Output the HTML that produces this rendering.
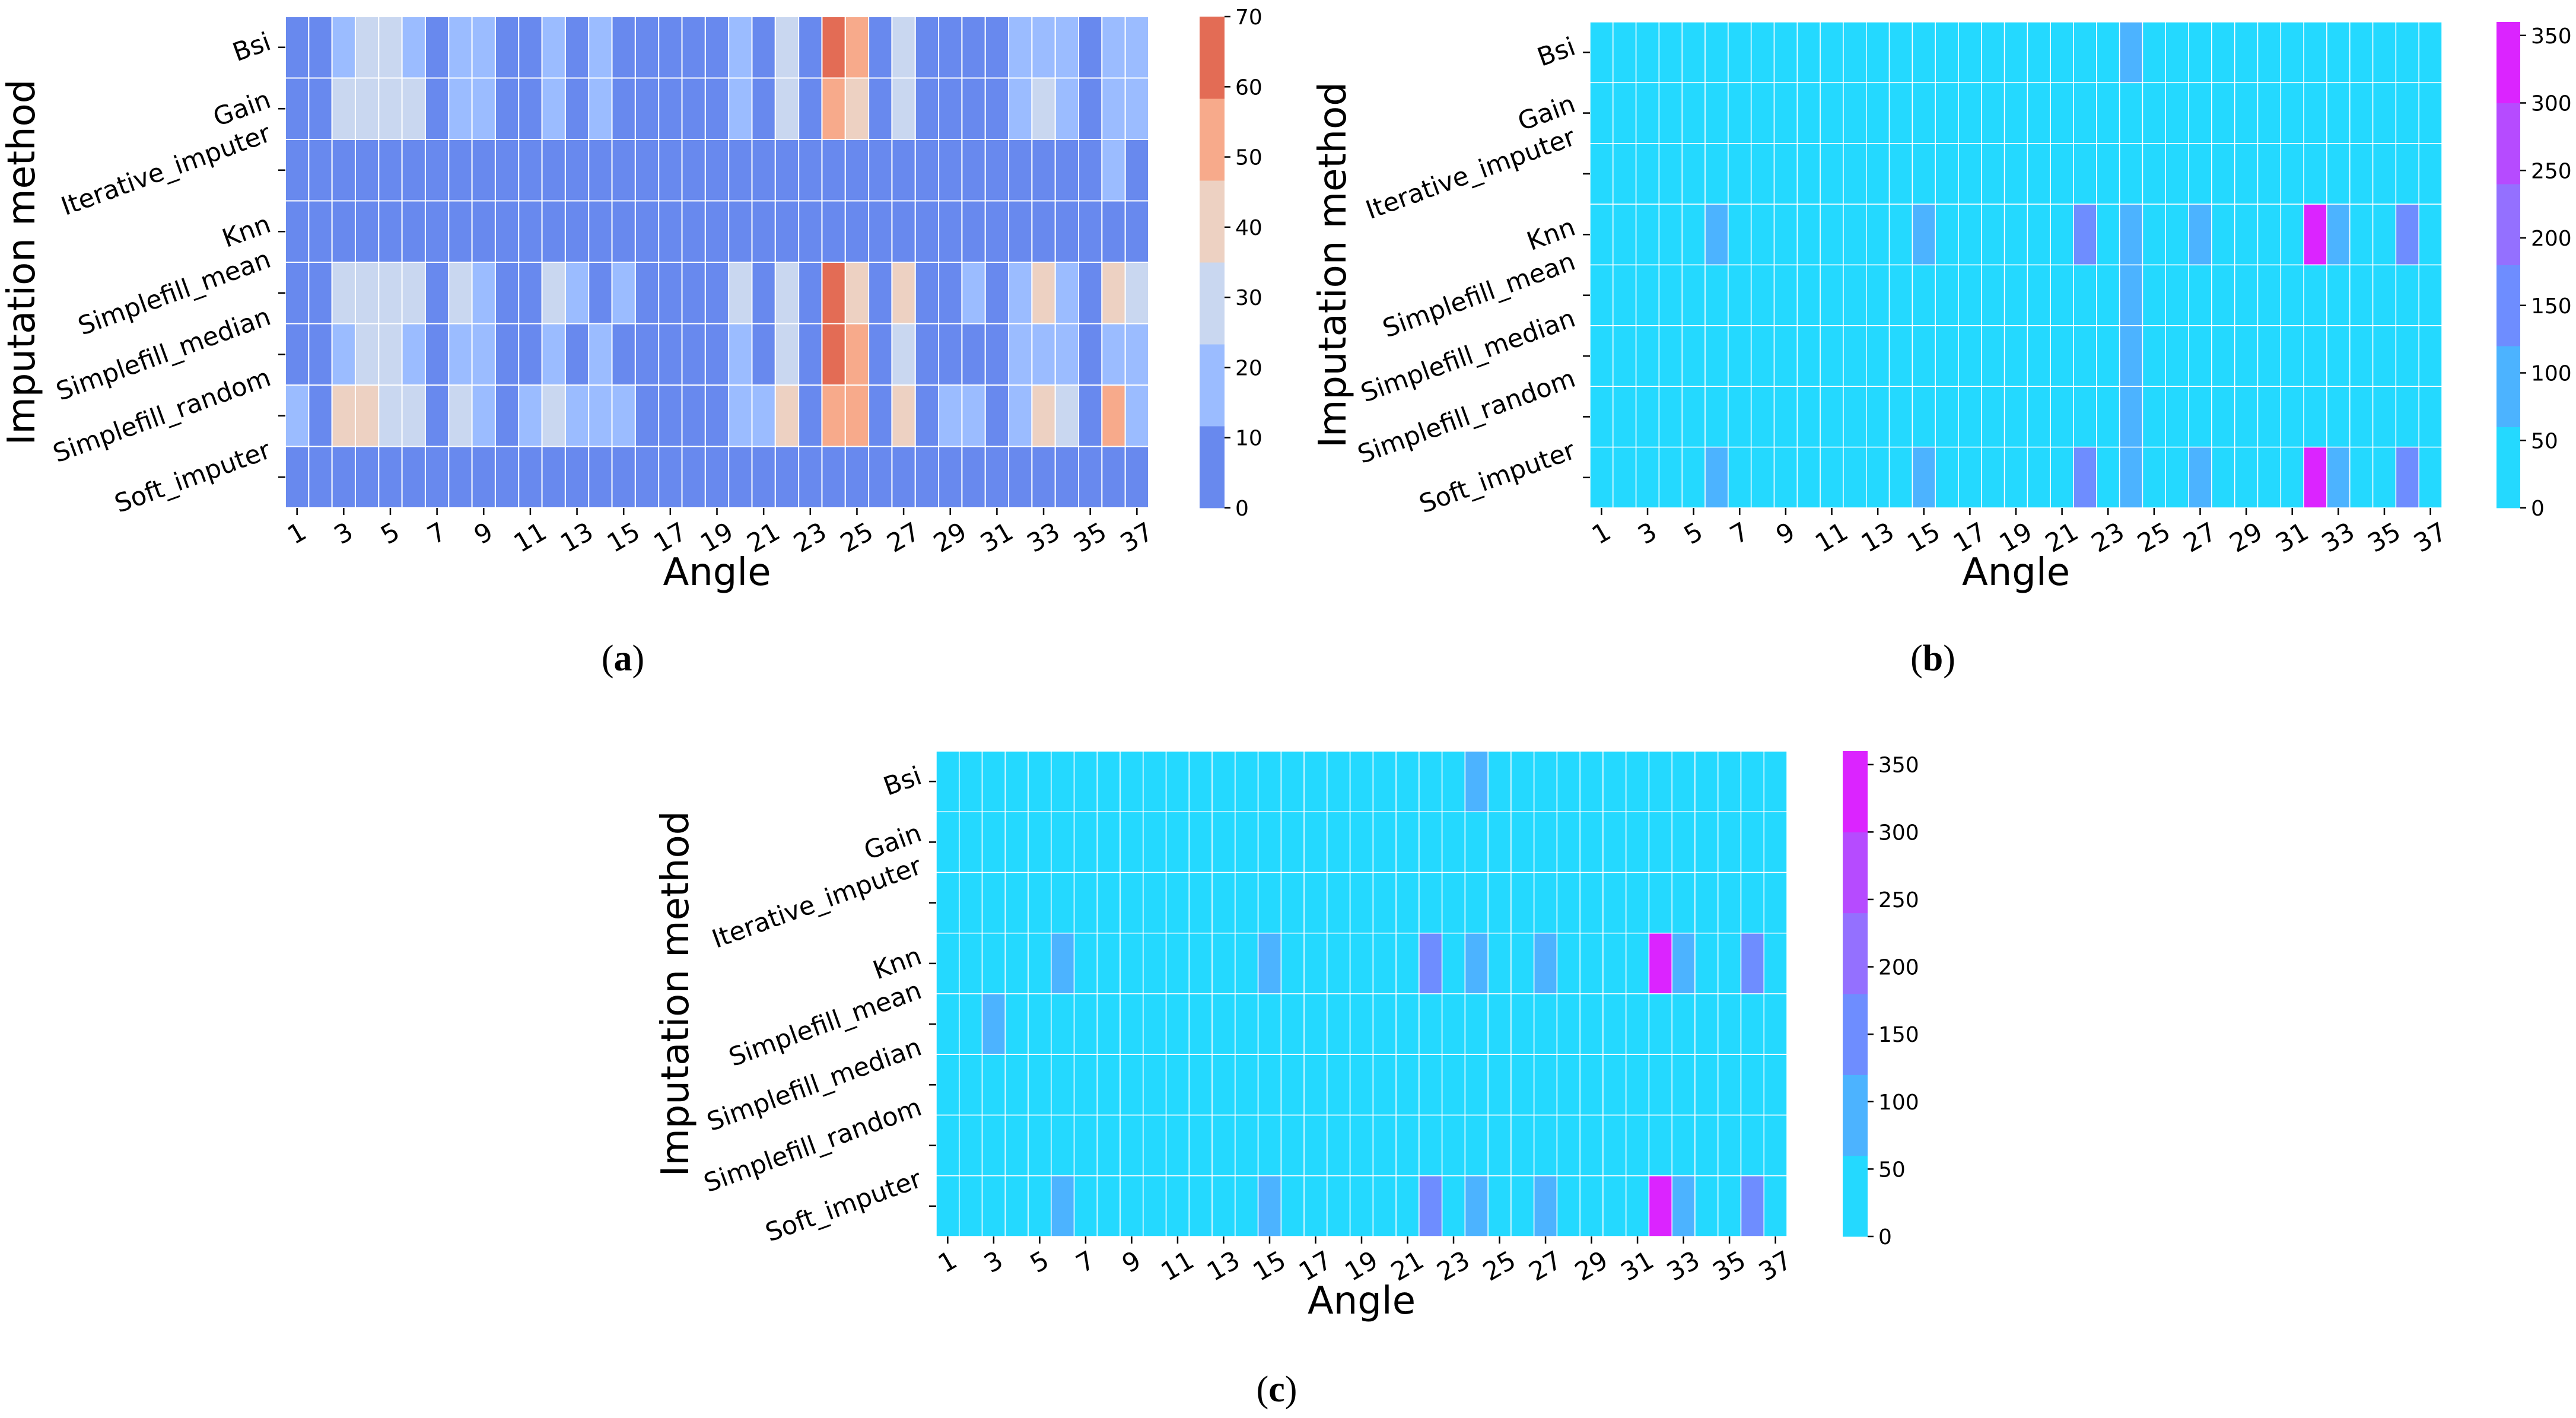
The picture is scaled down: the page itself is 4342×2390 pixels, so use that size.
<!DOCTYPE html>
<html><head><meta charset="utf-8"><style>
html,body{margin:0;padding:0;background:#fff;}
svg{display:block;}
</style></head><body>
<svg id="fig" xmlns="http://www.w3.org/2000/svg" width="4342" height="2390" viewBox="0 0 4342 2390">
<rect width="4342" height="2390" fill="#fff"/>
</svg>
<script>
// ---- data ----
const methods = ["Bsi","Gain","Iterative_imputer","Knn","Simplefill_mean","Simplefill_median","Simplefill_random","Soft_imputer"];
const angleTicks = [1,3,5,7,9,11,13,15,17,19,21,23,25,27,29,31,33,35,37];
const nAngles = 37;
const ticksA = [0,10,20,30,40,50,60,70];
const ticksBC = [0,50,100,150,200,250,300,350];
const colorsA = ["#6889ee","#9bbcff","#c9d7f0","#edd1c2","#f7aa8b","#e36c55"];
const colorsBC = ["#24d9ff","#4cb3ff","#6e8dff","#9470ff","#b64bff","#db24ff"];

const a_bsi    = [5,5,18,29,29,18,5,18,18,5,5,18,5,18,5,5,5,5,5,18,5,29,5,64,52,5,29,5,5,5,5,18,18,18,5,18,18];
const a_gain   = [5,5,29,29,29,29,5,18,18,5,5,18,5,18,5,5,5,5,5,18,5,29,5,52,41,5,29,5,5,5,5,18,29,18,5,18,18];
const a_iter   = [5,5,5,5,5,5,5,5,5,5,5,5,5,5,5,5,5,5,5,5,5,5,5,5,5,5,5,5,5,5,5,5,5,5,5,18,5];
const a_knn    = [5,5,5,5,5,5,5,5,5,5,5,5,5,5,5,5,5,5,5,5,5,5,5,5,5,5,5,5,5,5,5,5,5,5,5,5,5];
const a_mean   = [5,5,29,29,29,29,5,29,18,5,5,29,18,5,18,5,5,5,5,29,5,29,5,64,41,5,41,5,5,18,5,18,41,18,5,41,29];
const a_median = [5,5,18,29,29,18,5,18,18,5,5,18,5,18,5,5,5,5,5,18,5,29,5,64,52,5,29,5,5,5,5,18,18,18,5,18,18];
const a_random = [18,5,41,41,29,29,5,29,18,5,18,29,18,18,18,5,5,5,5,18,18,41,5,52,52,5,41,5,18,18,5,18,41,29,5,52,18];
const a_soft   = [5,5,5,5,5,5,5,5,5,5,5,5,5,5,5,5,5,5,5,5,5,5,5,5,5,5,5,5,5,5,5,5,5,5,5,5,5];

const b_bsi    = [10,10,10,10,10,10,10,10,10,10,10,10,10,10,10,10,10,10,10,10,10,10,10,90,10,10,10,10,10,10,10,10,10,10,10,10,10];
const b_gain   = [10,10,10,10,10,10,10,10,10,10,10,10,10,10,10,10,10,10,10,10,10,10,10,10,10,10,10,10,10,10,10,10,10,10,10,10,10];
const b_iter   = [10,10,10,10,10,10,10,10,10,10,10,10,10,10,10,10,10,10,10,10,10,10,10,10,10,10,10,10,10,10,10,10,10,10,10,10,10];
const b_knn    = [10,10,10,10,10,90,10,10,10,10,10,10,10,10,90,10,10,10,10,10,10,150,10,90,10,10,90,10,10,10,10,350,90,10,10,150,10];
const b_mean   = [10,10,10,10,10,10,10,10,10,10,10,10,10,10,10,10,10,10,10,10,10,10,10,90,10,10,10,10,10,10,10,10,10,10,10,10,10];
const b_median = [10,10,10,10,10,10,10,10,10,10,10,10,10,10,10,10,10,10,10,10,10,10,10,90,10,10,10,10,10,10,10,10,10,10,10,10,10];
const b_random = [10,10,10,10,10,10,10,10,10,10,10,10,10,10,10,10,10,10,10,10,10,10,10,90,10,10,10,10,10,10,10,10,10,10,10,10,10];
const b_soft   = [10,10,10,10,10,90,10,10,10,10,10,10,10,10,90,10,10,10,10,10,10,150,10,90,10,10,90,10,10,10,10,350,90,10,10,150,10];

const c_bsi    = [10,10,10,10,10,10,10,10,10,10,10,10,10,10,10,10,10,10,10,10,10,10,10,90,10,10,10,10,10,10,10,10,10,10,10,10,10];
const c_gain   = [10,10,10,10,10,10,10,10,10,10,10,10,10,10,10,10,10,10,10,10,10,10,10,10,10,10,10,10,10,10,10,10,10,10,10,10,10];
const c_iter   = [10,10,10,10,10,10,10,10,10,10,10,10,10,10,10,10,10,10,10,10,10,10,10,10,10,10,10,10,10,10,10,10,10,10,10,10,10];
const c_knn    = [10,10,10,10,10,90,10,10,10,10,10,10,10,10,90,10,10,10,10,10,10,150,10,90,10,10,90,10,10,10,10,350,90,10,10,150,10];
const c_mean   = [10,10,90,10,10,10,10,10,10,10,10,10,10,10,10,10,10,10,10,10,10,10,10,10,10,10,10,10,10,10,10,10,10,10,10,10,10];
const c_median = [10,10,10,10,10,10,10,10,10,10,10,10,10,10,10,10,10,10,10,10,10,10,10,10,10,10,10,10,10,10,10,10,10,10,10,10,10];
const c_random = [10,10,10,10,10,10,10,10,10,10,10,10,10,10,10,10,10,10,10,10,10,10,10,10,10,10,10,10,10,10,10,10,10,10,10,10,10];
const c_soft   = [10,10,10,10,10,90,10,10,10,10,10,10,10,10,90,10,10,10,10,10,10,150,10,90,10,10,90,10,10,10,10,350,90,10,10,150,10];

const dataA = [a_bsi,a_gain,a_iter,a_knn,a_mean,a_median,a_random,a_soft];
const dataB = [b_bsi,b_gain,b_iter,b_knn,b_mean,b_median,b_random,b_soft];
const dataC = [c_bsi,c_gain,c_iter,c_knn,c_mean,c_median,c_random,c_soft];

// ---- drawing ----
const NS = "http://www.w3.org/2000/svg";
const svg = document.getElementById("fig");
function mk(tag, attrs, parent){
  const e = document.createElementNS(NS, tag);
  for (const k in attrs) e.setAttribute(k, attrs[k]);
  (parent||svg).appendChild(e);
  return e;
}
const FONT = "'DejaVu Sans','Liberation Sans',sans-serif";
const TFS = 43;

function rotLabel(parent, str, fs, deg, place){
  const t = mk("text", {x: 0, y: 0, "font-family": FONT, "font-size": fs, "text-anchor": "middle", "dominant-baseline": "central"}, parent);
  t.textContent = str;
  const w = t.getComputedTextLength();
  const h = fs * 0.9;
  const r = deg * Math.PI / 180;
  const bw = w * Math.cos(r) + h * Math.sin(r);
  const bh = w * Math.sin(r) + h * Math.cos(r);
  const c = place(bw, bh);
  t.setAttribute("transform", `translate(${c[0]},${c[1]}) rotate(${-deg})`);
  return t;
}

function panel(p, data, vmax, colors, cbTicks, gap){
  const g = mk("g", {});
  
  
  const nr = methods.length;
  const cw = (p.x1 - p.x0) / nAngles, rh = (p.y1 - p.y0) / nr;
  const xs = i => p.x0 + i * cw;
  const ys = r => p.y0 + r * rh;
  const col = v => colors[Math.min(colors.length - 1, Math.floor(v / vmax * colors.length))];
  for (let r = 0; r < nr; r++) {
    for (let i = 0; i < nAngles; i++) {
      const c = mk("rect", {x: xs(i), y: ys(r), width: cw, height: rh, fill: col(data[r][i]), stroke: "#fff", "stroke-width": gap}, g);
      
      
    }
  }
  for (let r = 0; r < nr; r++) {
    const y = ys(r) + rh / 2;
    mk("line", {x1: p.x0 - 12, x2: p.x0, y1: y, y2: y, stroke: "#000", "stroke-width": 2.5}, g);
    const t = rotLabel(g, methods[r], TFS, 20, (bw, bh) => [p.x0 - 20 - bw / 2, y]);
    
    
  }
  angleTicks.forEach(a => {
    const x = xs(a - 1) + cw / 2;
    mk("line", {x1: x, x2: x, y1: p.y1, y2: p.y1 + 12, stroke: "#000", "stroke-width": 2.5}, g);
    const t = rotLabel(g, String(a), TFS, 30, (bw, bh) => [x, p.y1 + 20 + bh / 2]);
    
    
  });
  const xt = mk("text", {x: (p.x0 + p.x1) / 2, y: p.y1 + 130, "font-family": FONT, "font-size": 64, "text-anchor": "middle"}, g);
  xt.textContent = "Angle";
  
  
  const yt = mk("text", {x: 0, y: 0, "font-family": FONT, "font-size": 64, "text-anchor": "middle",
    transform: `translate(${p.ylx},${(p.y0 + p.y1) / 2}) rotate(-90)`}, g);
  yt.textContent = "Imputation method";
  
  
  const cb = mk("g", {}, g);
  
  
  const cy = v => p.y1 - v / vmax * (p.y1 - p.y0);
  colors.forEach((c, k) => {
    const lo = k * vmax / colors.length, hi = (k + 1) * vmax / colors.length;
    mk("rect", {x: p.cb0, y: cy(hi), width: p.cb1 - p.cb0, height: cy(lo) - cy(hi) + 0.5, fill: c}, cb);
  });
  cbTicks.forEach(v => {
    const y = cy(v);
    mk("line", {x1: p.cb1, x2: p.cb1 + 10, y1: y, y2: y, stroke: "#000", "stroke-width": 2.5}, cb);
    const t = mk("text", {x: p.cb1 + 18, y: y + 13, "font-family": FONT, "font-size": 36}, cb);
    t.textContent = v;
    
    
  });
  const cap = mk("text", {x: p.capx, y: p.capy, "font-family": "'Liberation Serif',serif", "font-size": 62, "text-anchor": "middle"}, g);
  cap.innerHTML = '(<tspan font-weight="bold">' + p.id + '</tspan>)';
  
  
}

panel({id: "a", x0: 481, x1: 1936, y0: 28, y1: 856, cb0: 2022, cb1: 2064, ylx: 58, capx: 1050, capy: 1130},
  dataA, 70, colorsA, ticksA, 2);
panel({id: "b", x0: 2680, x1: 4116, y0: 37, y1: 856, cb0: 4208, cb1: 4248, ylx: 2268, capx: 3258, capy: 1130},
  dataB, 360, colorsBC, ticksBC, 1.5);
panel({id: "c", x0: 1578, x1: 3012, y0: 1266, y1: 2084, cb0: 3106, cb1: 3148, ylx: 1160, capx: 2152, capy: 2362},
  dataC, 360, colorsBC, ticksBC, 1.5);
</script>
</body></html>
